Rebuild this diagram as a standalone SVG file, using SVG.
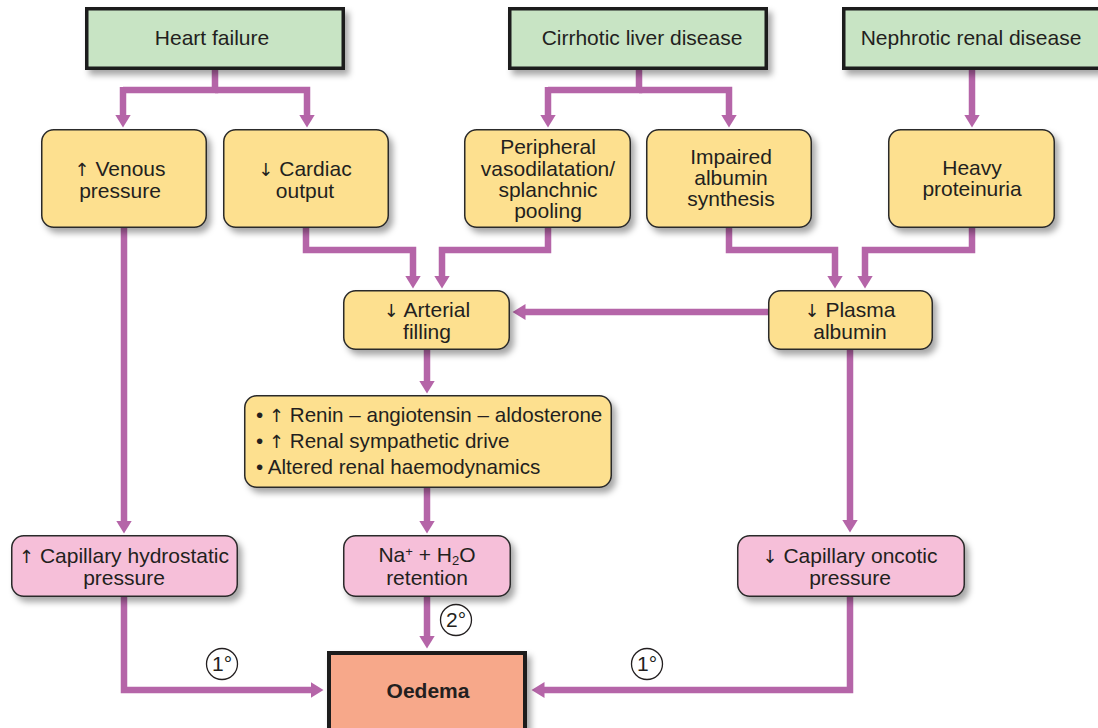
<svg xmlns="http://www.w3.org/2000/svg" width="1098" height="728" viewBox="0 0 1098 728">
<defs>
<filter id="sh" x="-10%" y="-10%" width="130%" height="140%">
<feDropShadow dx="4" dy="5" stdDeviation="3" flood-color="#000" flood-opacity="0.35"/>
</filter>
<marker id="ah" markerUnits="userSpaceOnUse" markerWidth="14" markerHeight="18" viewBox="0 -9 14 18" refX="0.5" refY="0" orient="auto">
<path d="M0,-8 L13,0 L0,8 z" fill="#b565a8"/>
</marker>
<style>
text{font-family:"Liberation Sans",Arial,sans-serif;font-size:21px;fill:#231f20;text-anchor:middle}
.ar{font-family:"DejaVu Sans",sans-serif;font-size:18px;font-weight:normal}
.g{fill:#c8e4c4;stroke:#1a1a1a;stroke-width:3.5}
.y{fill:#fde08f;stroke:#2a2a2a;stroke-width:1.5}
.p{fill:#f6bfd9;stroke:#2a2a2a;stroke-width:1.5}
.o{fill:#f7a88a;stroke:#1a1a1a;stroke-width:4}
.c path{fill:none;stroke:#b565a8;stroke-width:6.5;stroke-linejoin:miter}
.c path.a{marker-end:url(#ah)}
.l{text-anchor:start;font-size:20.6px}
.ci{fill:#fff;stroke:#231f20;stroke-width:1.3}
</style>
</defs>
<rect width="1098" height="728" fill="#fff"/>

<g class="c" id="connectors">
<path d="M215,70 V90 H123"/>
<path class="a" d="M123,87 V115"/>
<path class="a" d="M215,90 H307 V115"/>
<path d="M639,70 V90 H548"/>
<path class="a" d="M548,87 V115"/>
<path class="a" d="M639,90 H729 V115"/>
<path class="a" d="M972,70 V115"/>
<path class="a" d="M124,228 V521"/>
<path class="a" d="M306,228 V250 H413 V276"/>
<path class="a" d="M548,228 V250 H442 V276"/>
<path class="a" d="M729,228 V250 H835 V276"/>
<path class="a" d="M972,228 V250 H865 V276"/>
<path class="a" d="M768,312 H525"/>
<path class="a" d="M427,350 V381"/>
<path class="a" d="M427,488 V521"/>
<path class="a" d="M850,350 V520"/>
<path class="a" d="M124,596 V690 H311"/>
<path class="a" d="M427,596 V636"/>
<path class="a" d="M850,596 V690 H544"/>
</g>

<g id="heart-failure">
<rect class="g" x="86.75" y="8.75" width="256.5" height="59.5" filter="url(#sh)"/>
<text x="212" y="45">Heart failure</text>
</g>
<g id="cirrhotic">
<rect class="g" x="509.75" y="8.75" width="256.5" height="59.5" filter="url(#sh)"/>
<text x="642" y="45">Cirrhotic liver disease</text>
</g>
<g id="nephrotic">
<rect class="g" x="843.75" y="8.75" width="260" height="59.5" filter="url(#sh)"/>
<text x="971" y="45">Nephrotic renal disease</text>
</g>

<g id="venous">
<rect class="y" x="41.75" y="129.75" width="164.5" height="97.5" rx="12" filter="url(#sh)"/>
<text x="120" y="176"><tspan class="ar">↑</tspan> Venous</text>
<text x="120" y="198">pressure</text>
</g>
<g id="cardiac">
<rect class="y" x="223.75" y="129.75" width="164.5" height="97.5" rx="12" filter="url(#sh)"/>
<text x="305" y="176"><tspan class="ar">↓</tspan> Cardiac</text>
<text x="305" y="198">output</text>
</g>
<g id="peripheral">
<rect class="y" x="464.75" y="129.75" width="165.5" height="97.5" rx="12" filter="url(#sh)"/>
<text x="548" y="154">Peripheral</text>
<text x="548" y="175.5">vasodilatation/</text>
<text x="548" y="196.5">splanchnic</text>
<text x="548" y="218">pooling</text>
</g>
<g id="impaired">
<rect class="y" x="646.75" y="129.75" width="164.5" height="97.5" rx="12" filter="url(#sh)"/>
<text x="731" y="164">Impaired</text>
<text x="731" y="185">albumin</text>
<text x="731" y="206">synthesis</text>
</g>
<g id="heavy">
<rect class="y" x="888.75" y="129.75" width="165.5" height="97.5" rx="12" filter="url(#sh)"/>
<text x="972" y="175">Heavy</text>
<text x="972" y="196">proteinuria</text>
</g>

<g id="arterial">
<rect class="y" x="343.75" y="290.75" width="165.5" height="58.5" rx="12" filter="url(#sh)"/>
<text x="427" y="317"><tspan class="ar">↓</tspan> Arterial</text>
<text x="427" y="339">filling</text>
</g>
<g id="plasma">
<rect class="y" x="768.75" y="290.75" width="163.5" height="58.5" rx="12" filter="url(#sh)"/>
<text x="850" y="317"><tspan class="ar">↓</tspan> Plasma</text>
<text x="850" y="339">albumin</text>
</g>

<g id="raa">
<rect class="y" x="244.75" y="395.75" width="366.5" height="91.5" rx="12" filter="url(#sh)"/>
<text class="l" x="256" y="422">• <tspan class="ar">↑</tspan> Renin – angiotensin – aldosterone</text>
<text class="l" x="256" y="448">• <tspan class="ar">↑</tspan> Renal sympathetic drive</text>
<text class="l" x="256" y="474">• Altered renal haemodynamics</text>
</g>

<g id="cap-hydro">
<rect class="p" x="11.75" y="535.75" width="225.5" height="60.5" rx="12" filter="url(#sh)"/>
<text x="124" y="563"><tspan class="ar">↑</tspan> Capillary hydrostatic</text>
<text x="124" y="585">pressure</text>
</g>
<g id="na-retention">
<rect class="p" x="343.75" y="535.75" width="166.5" height="60.5" rx="12" filter="url(#sh)"/>
<text x="427" y="562">Na<tspan font-size="13" baseline-shift="6">+</tspan> + H<tspan font-size="13" baseline-shift="-3">2</tspan>O</text>
<text x="427" y="585">retention</text>
</g>
<g id="cap-oncotic">
<rect class="p" x="737.75" y="535.75" width="226.5" height="60.5" rx="12" filter="url(#sh)"/>
<text x="850" y="563"><tspan class="ar">↓</tspan> Capillary oncotic</text>
<text x="850" y="585">pressure</text>
</g>

<g id="oedema">
<rect class="o" x="329" y="653" width="196" height="80" filter="url(#sh)"/>
<text x="428" y="698" font-weight="bold">Oedema</text>
</g>

<g id="labels">
<circle class="ci" cx="222" cy="664" r="15.5"/>
<text x="222" y="671">1°</text>
<circle class="ci" cx="456" cy="620" r="15.5"/>
<text x="456" y="627">2°</text>
<circle class="ci" cx="647" cy="664" r="15.5"/>
<text x="647" y="671">1°</text>
</g>
</svg>
